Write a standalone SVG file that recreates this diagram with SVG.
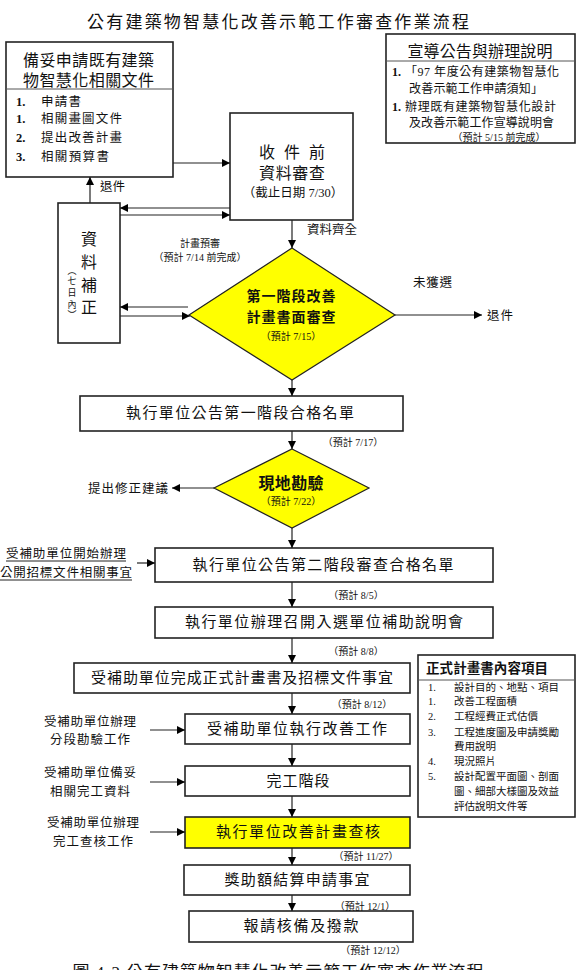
<svg xmlns="http://www.w3.org/2000/svg" width="580" height="970" viewBox="0 0 580 970">
<defs>
<marker id="ah" markerUnits="userSpaceOnUse" markerWidth="9" markerHeight="9" refX="8" refY="4" orient="auto">
<path d="M0,0 L8,4 L0,8 z" fill="#000"/>
</marker>
<style>
text{font-family:"Liberation Serif","Noto Sans CJK TC",serif;fill:#111;dominant-baseline:central}
.box{fill:#fff;stroke:#222;stroke-width:1.6}
.yel{fill:#ffff00;stroke:#222;stroke-width:1.2}
.c{text-anchor:middle}
.m{font-size:15px}
.h{font-size:16px}
.s{font-size:12.5px}
.r{font-size:12px}
.xs{font-size:10.5px}
.d{font-size:10px}
.b{font-weight:bold}
.conn path{fill:none;stroke:#222;stroke-width:1.2;marker-end:url(#ah)}
.ul{stroke:#222;stroke-width:1}
</style>
</defs>
<rect width="580" height="970" fill="#fff"/>

<text id="title" x="278" y="22" class="c" style="font-size:17px" textLength="382" lengthAdjust="spacing">公有建築物智慧化改善示範工作審查作業流程</text>

<g id="docs">
<rect class="box" x="6" y="42" width="167" height="135"/>
<line x1="6" y1="89" x2="173" y2="89" stroke="#555" stroke-width="1"/>
<text x="88.5" y="60" class="c h" textLength="131" lengthAdjust="spacing">備妥申請既有建築</text>
<text x="88.5" y="80" class="c h" textLength="131" lengthAdjust="spacing">物智慧化相關文件</text>
<text x="16" y="102" class="s b">1.</text><text x="41" y="102" class="s" textLength="40" lengthAdjust="spacing">申請書</text>
<text x="16" y="119" class="s b">1.</text><text x="41" y="119" class="s" textLength="81" lengthAdjust="spacing">相關畫圖文件</text>
<text x="16" y="138" class="s b">2.</text><text x="41" y="138" class="s" textLength="81" lengthAdjust="spacing">提出改善計畫</text>
<text x="16" y="157" class="s b">3.</text><text x="41" y="157" class="s" textLength="68" lengthAdjust="spacing">相關預算書</text>
</g>

<g id="promo">
<rect class="box" x="386" y="34" width="189" height="109"/>
<line x1="386" y1="61" x2="575" y2="61" stroke="#555" stroke-width="1"/>
<text x="480" y="51" class="c h" textLength="145" lengthAdjust="spacing">宣導公告與辦理說明</text>
<text x="392" y="72" class="r b">1.</text><text x="405" y="72" class="r" textLength="154" lengthAdjust="spacing">「97 年度公有建築物智慧化</text>
<text x="409" y="89" class="r" textLength="134" lengthAdjust="spacing">改善示範工作申請須知」</text>
<text x="392" y="107" class="r b">1.</text><text x="405" y="107" class="r" textLength="151" lengthAdjust="spacing">辦理既有建築物智慧化設計</text>
<text x="409" y="123" class="r" textLength="145" lengthAdjust="spacing">及改善示範工作宣導說明會</text>
<text x="499" y="137" class="c d">（預計 5/15 前完成）</text>
</g>

<g id="precheck">
<rect class="box" x="230" y="113" width="123" height="107"/>
<text x="292" y="152" class="c h" textLength="66" lengthAdjust="spacing">收件前</text>
<text x="292" y="173" class="c h" textLength="66" lengthAdjust="spacing">資料審查</text>
<text x="293" y="193" class="c" style="font-size:12.5px">（截止日期 7/30）</text>
</g>

<g id="correct">
<rect class="box" x="58" y="203" width="62" height="140"/>
<text x="89" y="239" class="c h">資</text>
<text x="89" y="262" class="c h">料</text>
<text x="89" y="285" class="c h">補</text>
<text x="89" y="307" class="c h">正</text>
<text x="72" y="271" class="c" style="font-size:9px">︵</text>
<text x="72" y="281" class="c" style="font-size:9px">七</text>
<text x="72" y="293" class="c" style="font-size:9px">日</text>
<text x="72" y="305" class="c" style="font-size:9px">內</text>
<text x="72" y="315" class="c" style="font-size:9px">︶</text>
</g>

<g id="review1">
<polygon class="yel" points="292,248 395,315 292,380 189,315"/>
<text x="291" y="296" class="c b" style="font-size:14px" textLength="89" lengthAdjust="spacing">第一階段改善</text>
<text x="291" y="317" class="c b" style="font-size:14px" textLength="89" lengthAdjust="spacing">計畫書面審查</text>
<text x="291" y="336" class="c d">（預計 7/15）</text>
</g>

<g id="list1">
<rect class="box" x="80" y="396" width="323" height="35"/>
<text x="240" y="413" class="c m" textLength="228" lengthAdjust="spacing">執行單位公告第一階段合格名單</text>
</g>

<g id="site">
<polygon class="yel" points="292,449 369,488 292,528 214,488"/>
<text x="291" y="483" class="c b h" textLength="65" lengthAdjust="spacing">現地勘驗</text>
<text x="291" y="501" class="c d">（預計 7/22）</text>
</g>

<g id="list2">
<rect class="box" x="155" y="548" width="338" height="34"/>
<text x="323" y="565" class="c m" textLength="261" lengthAdjust="spacing">執行單位公告第二階段審查合格名單</text>
</g>

<g id="briefing">
<rect class="box" x="155" y="607" width="338" height="31"/>
<text x="324" y="622" class="c m" textLength="278" lengthAdjust="spacing">執行單位辦理召開入選單位補助說明會</text>
</g>

<g id="formal">
<rect class="box" x="74" y="663" width="336" height="30"/>
<text x="242" y="678" class="c m" textLength="302" lengthAdjust="spacing">受補助單位完成正式計畫書及招標文件事宜</text>
</g>

<g id="execute">
<rect class="box" x="185" y="714" width="225" height="30"/>
<text x="297" y="729" class="c m" textLength="180" lengthAdjust="spacing">受補助單位執行改善工作</text>
</g>

<g id="complete">
<rect class="box" x="185" y="766" width="225" height="30"/>
<text x="298" y="781" class="c m" textLength="63" lengthAdjust="spacing">完工階段</text>
</g>

<g id="audit">
<rect class="box" x="185" y="817" width="225" height="31" style="fill:#ffff00"/>
<text x="298" y="832" class="c m" textLength="164" lengthAdjust="spacing">執行單位改善計畫查核</text>
</g>

<g id="settle">
<rect class="box" x="184" y="865" width="226" height="30"/>
<text x="297" y="880" class="c m" textLength="145" lengthAdjust="spacing">獎助額結算申請事宜</text>
</g>

<g id="payment">
<rect class="box" x="189" y="911" width="224" height="31"/>
<text x="301" y="926" class="c m" textLength="115" lengthAdjust="spacing">報請核備及撥款</text>
</g>

<g id="contents">
<rect class="box" x="418" y="655" width="157" height="162"/>
<line x1="418" y1="680" x2="575" y2="680" stroke="#555" stroke-width="1"/>
<text x="426" y="668" class="b" style="font-size:13.5px" textLength="122" lengthAdjust="spacing">正式計畫書內容項目</text>
<text x="428" y="687" class="xs">1.</text><text x="454" y="687" class="xs">設計目的、地點、項目</text>
<text x="428" y="701" class="xs">1.</text><text x="454" y="701" class="xs">改善工程面積</text>
<text x="428" y="716" class="xs">2.</text><text x="454" y="716" class="xs">工程經費正式估價</text>
<text x="428" y="732" class="xs">3.</text><text x="454" y="732" class="xs">工程進度圖及申請獎勵</text>
<text x="454" y="746" class="xs">費用說明</text>
<text x="428" y="761" class="xs">4.</text><text x="454" y="761" class="xs">現況照片</text>
<text x="428" y="776" class="xs">5.</text><text x="454" y="776" class="xs">設計配置平面圖、剖面</text>
<text x="454" y="791" class="xs">圖、細部大樣圖及效益</text>
<text x="454" y="806" class="xs">評估說明文件等</text>
</g>

<g id="labels">
<text x="100" y="187" class="s" textLength="25" lengthAdjust="spacing">退件</text>
<text x="307" y="230" class="s" textLength="50" lengthAdjust="spacing">資料齊全</text>
<text x="200" y="243" class="c d">計畫預審</text>
<text x="200" y="257" class="c d">（預計 7/14 前完成）</text>
<text x="413" y="283" class="s" textLength="39" lengthAdjust="spacing">未獲選</text>
<text x="487" y="316" class="s" textLength="26" lengthAdjust="spacing">退件</text>
<text x="353" y="442" class="c d">（預計 7/17）</text>
<text x="88" y="489" class="s" textLength="80" lengthAdjust="spacing">提出修正建議</text>
<text x="66" y="554" class="c s" textLength="120" lengthAdjust="spacing">受補助單位開始辦理</text>
<text x="66" y="573" class="c s" textLength="132" lengthAdjust="spacing">公開招標文件相關事宜</text>
<line class="ul" x1="6" y1="561" x2="126" y2="561"/>
<line class="ul" x1="0" y1="580" x2="132" y2="580"/>
<text x="356" y="595" class="c d">（預計 8/5）</text>
<text x="356" y="651" class="c d">（預計 8/8）</text>
<text x="362" y="704" class="c d">（預計 8/12）</text>
<text x="90" y="722" class="c s" textLength="92" lengthAdjust="spacing">受補助單位辦理</text>
<text x="90" y="740" class="c s" textLength="80" lengthAdjust="spacing">分段勘驗工作</text>
<text x="90" y="773" class="c s" textLength="92" lengthAdjust="spacing">受補助單位備妥</text>
<text x="90" y="792" class="c s" textLength="80" lengthAdjust="spacing">相關完工資料</text>
<text x="93" y="823" class="c s" textLength="92" lengthAdjust="spacing">受補助單位辦理</text>
<text x="93" y="842" class="c s" textLength="80" lengthAdjust="spacing">完工查核工作</text>
<text x="366" y="856" class="c d">（預計 11/27）</text>
<text x="365" y="906" class="c d">（預計 12/1）</text>
<text x="373" y="950" class="c d">（預計 12/12）</text>
<text x="278" y="972" class="c" style="font-size:17px" textLength="411" lengthAdjust="spacing">圖 4-2 公有建築物智慧化改善示範工作審查作業流程</text>
</g>

<g id="connectors" class="conn">
<path d="M173,163 H230"/>
<path d="M90,203 V177"/>
<path d="M230,208 H120"/>
<path d="M120,215 H230"/>
<path d="M292,220 V248"/>
<path d="M188,307 H120"/>
<path d="M120,316 H190"/>
<path d="M395,315 H482"/>
<path d="M292,380 V396"/>
<path d="M292,431 V449"/>
<path d="M214,488 H172"/>
<path d="M292,528 V548"/>
<path d="M137,563 H155"/>
<path d="M292,582 V607"/>
<path d="M292,638 V663"/>
<path d="M292,693 V714"/>
<path d="M150,730 H185"/>
<path d="M292,744 V766"/>
<path d="M150,782 H185"/>
<path d="M292,796 V817"/>
<path d="M150,832 H185"/>
<path d="M292,848 V865"/>
<path d="M292,895 V911"/>
</g>
</svg>
